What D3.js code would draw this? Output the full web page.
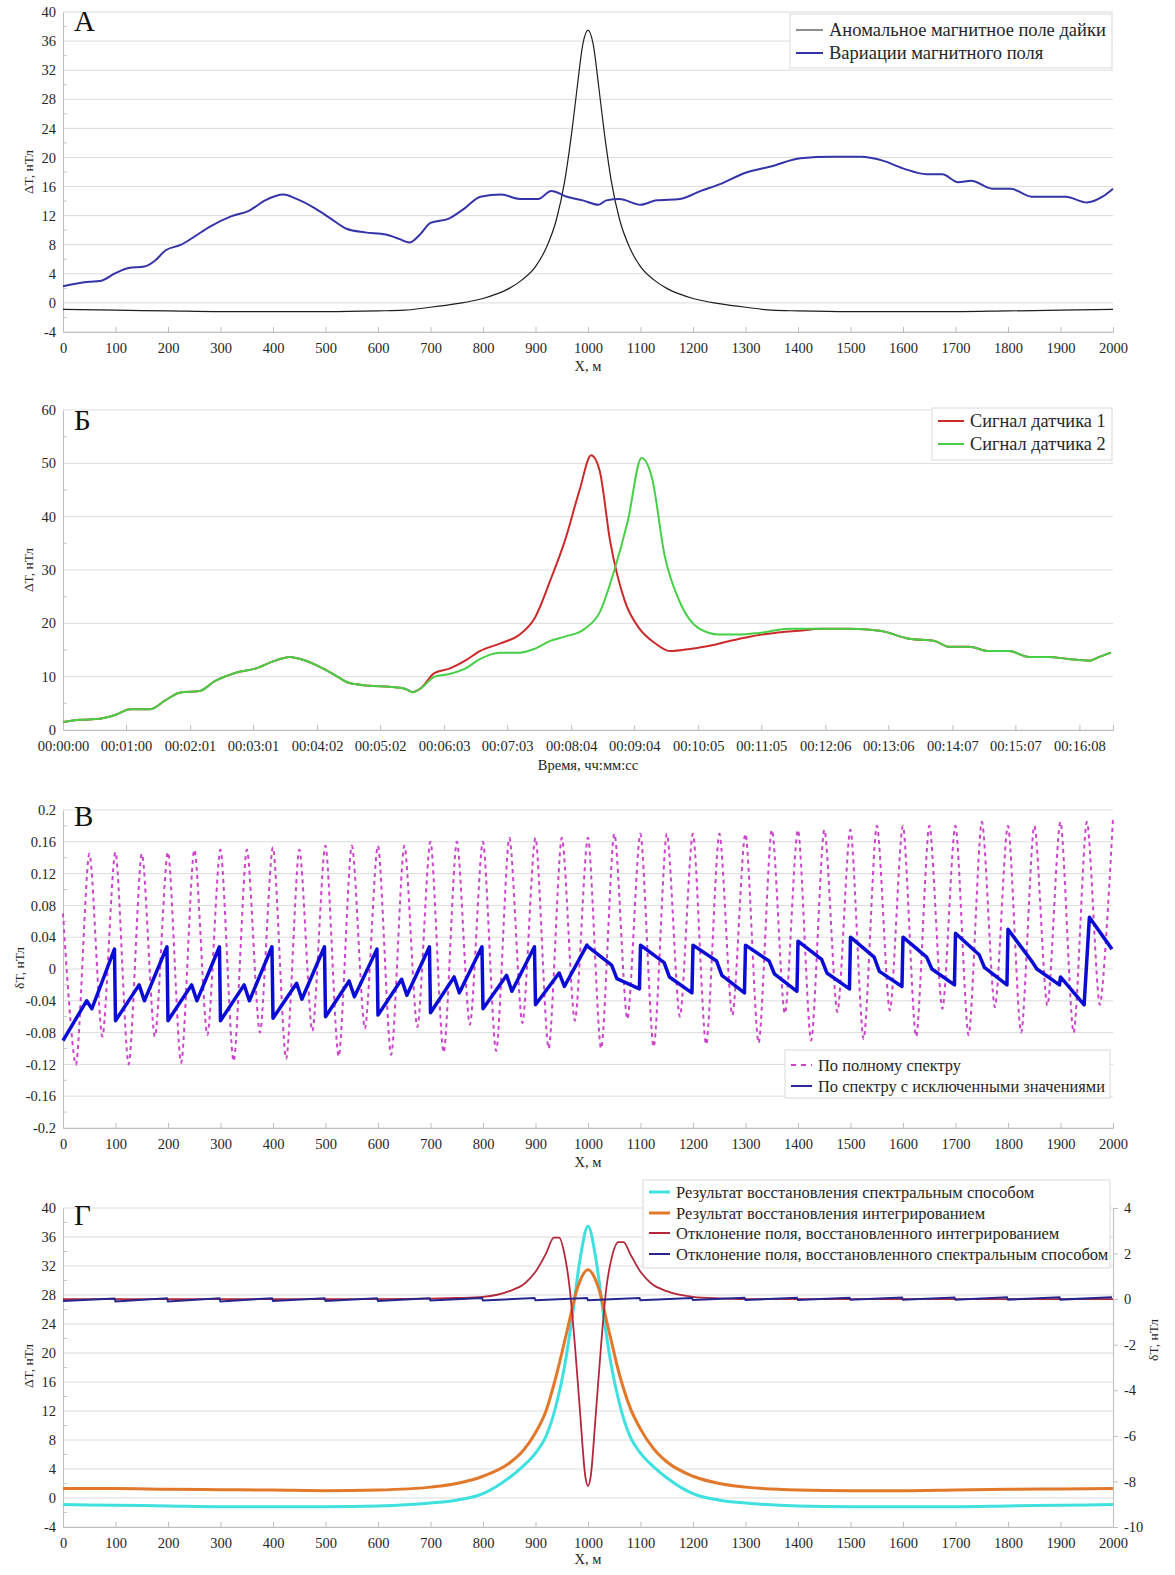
<!DOCTYPE html>
<meta charset="utf-8">
<style>
body { margin: 0; background: #fff; }
</style>
<body>
<script src="https://cdn.jsdelivr.net/npm/d3@7"></script>
<script>

// ---------- panel A: dike anomaly and field variations ----------
var dikeX = [0,100,200,300,400,500,600,650,700,750,800,825,850,875,900,920,940,955,970,980,990,1000,1010,1020,1030,1045,1060,1080,1100,1125,1150,1175,1200,1250,1300,1350,1400,1500,1600,1700,1800,1900,2000];
var dikeT = [-0.9,-1.0,-1.1,-1.2,-1.2,-1.2,-1.1,-1.0,-0.6,-0.1,0.6,1.2,2.0,3.2,5.0,7.5,11.5,16.5,24,30,35.5,37.5,35.5,30,24,16.5,11.5,7.5,5.0,3.2,2.0,1.2,0.6,-0.1,-0.6,-1.0,-1.1,-1.2,-1.2,-1.2,-1.1,-1.0,-0.9];
var varX = [0,50,70,100,125,155,175,195,225,250,280,320,355,385,420,445,480,510,540,575,615,640,660,680,700,735,765,795,835,870,905,930,960,990,1020,1035,1060,1100,1130,1175,1215,1250,1300,1350,1405,1465,1520,1560,1600,1645,1675,1705,1730,1770,1805,1845,1885,1910,1950,1980,2000];
var varT = [2.3,2.9,3.0,4.1,4.8,5.0,5.8,7.2,8.0,9.1,10.5,11.9,12.7,14.1,14.9,14.3,13.0,11.6,10.2,9.7,9.4,8.8,8.3,9.4,11.0,11.6,13.0,14.6,14.9,14.3,14.3,15.4,14.6,14.1,13.5,14.1,14.3,13.5,14.1,14.3,15.4,16.3,17.9,18.8,19.9,20.1,20.1,19.6,18.5,17.7,17.7,16.6,16.8,15.7,15.7,14.6,14.6,14.6,13.8,14.6,15.7];

// ---------- panel B: two sensor signals in time (s) ----------
var tCommon1 = [0,16,35,49.5,64,83,97,111,130,145,164,183,202,216,226,245,259,273,292,311,326,333,340];
var sCommon1 = [1.5,1.9,2.1,2.8,3.9,3.9,5.5,7.0,7.3,9.2,10.7,11.5,13.0,13.7,13.3,11.8,10.3,8.8,8.3,8.1,7.7,7.1,7.7];
var tSensor1 = [354,368,383,397,416,435,449,464,478,492,503,511,521,535,549,563,578,597,616,635,654,678,701];
var sSensor1 = [10.7,11.5,13,14.8,16.2,17.9,20.9,28,35.5,45,51.5,48.7,35.5,24.2,19.0,16.4,14.8,15.2,15.8,16.7,17.5,18.2,18.6];
var tSensor2 = [354,368,383,397,416,435,449,464,478,497,511,525,538,551,561,573,587,606,625,644,663,692,701];
var sSensor2 = [10.0,10.5,11.5,13.3,14.5,14.5,15.2,16.7,17.5,19.0,22.0,29.9,39.3,51,47.2,32.7,24.2,19,17.9,17.9,18.2,19.0,19.0];
var tCommon2 = [721,749,778,806,830,844,863,882,901,920,939,958,978,987,998];
var sCommon2 = [19.0,19.0,18.6,17.1,16.7,15.6,15.6,14.8,14.8,13.7,13.7,13.3,13.0,13.7,14.5];
var timeTicks = ["00:00:00","00:01:00","00:02:01","00:03:01","00:04:02","00:05:02","00:06:03","00:07:03","00:08:04","00:09:04","00:10:05","00:11:05","00:12:06","00:13:06","00:14:07","00:15:07","00:16:08"];

// ---------- panel C: reconstruction errors ----------
// full spectrum: crest every 50 m, trough between crests
var magPeak = [0.07,0.145,0.147,0.145,0.147,0.15,0.15,0.15,0.153,0.15,0.155,0.155,0.155,0.155,0.16,0.16,0.16,0.165,0.165,0.165,0.165,0.17,0.17,0.17,0.17,0.17,0.17,0.175,0.175,0.175,0.175,0.18,0.18,0.18,0.18,0.185,0.18,0.18,0.185,0.185,0.19];
var magLow = [-0.12,-0.085,-0.12,-0.085,-0.118,-0.083,-0.116,-0.08,-0.113,-0.078,-0.11,-0.075,-0.108,-0.073,-0.105,-0.07,-0.103,-0.068,-0.1,-0.065,-0.1,-0.063,-0.098,-0.06,-0.095,-0.058,-0.093,-0.056,-0.09,-0.054,-0.088,-0.052,-0.085,-0.05,-0.083,-0.048,-0.08,-0.046,-0.08,-0.045];
// excluded values: one tooth per 100 m, read at +0, +45, +55, +98 m
var blueStart = [-0.09,-0.065,-0.065,-0.065,-0.062,-0.06,-0.058,-0.055,-0.05,-0.045,0.028,0.03,0.03,0.03,0.035,0.04,0.04,0.045,0.05,-0.01];
var blueMidA = [-0.04,-0.02,-0.02,-0.02,-0.018,-0.015,-0.013,-0.01,-0.008,-0.005,0.005,0.008,0.01,0.01,0.012,0.015,0.015,0.018,0.01,-0.045];
var blueMidB = [-0.05,-0.04,-0.04,-0.04,-0.038,-0.035,-0.033,-0.03,-0.028,-0.022,-0.012,-0.01,-0.008,-0.006,-0.005,-0.003,0,0.002,0.0,0.065];
var blueEnd = [0.025,0.028,0.028,0.028,0.028,0.025,0.028,0.028,0.028,0.03,-0.025,-0.03,-0.03,-0.028,-0.025,-0.022,-0.02,-0.02,-0.02,0.025];

// ---------- panel D: reconstructed fields and deviations ----------
var specX = [0,100,200,300,400,500,600,700,750,800,850,875,900,920,940,955,970,985,1000,1015,1030,1045,1060,1080,1100,1125,1150,1200,1250,1300,1400,1500,1600,1700,1800,1900,2000];
var specT = [-0.9,-1.0,-1.1,-1.2,-1.2,-1.2,-1.1,-0.7,-0.3,0.6,2.8,4.3,6.2,8.5,13,18,25,33,37.5,33,25,18,13,8.5,6.2,4.3,2.8,0.6,-0.3,-0.7,-1.1,-1.2,-1.2,-1.2,-1.1,-1.0,-0.9];
var intX = [0,100,200,300,400,500,600,700,750,800,850,875,900,920,940,960,980,1000,1020,1040,1060,1080,1100,1125,1150,1200,1250,1300,1400,1500,1600,1700,1800,1900,2000];
var intT = [1.3,1.3,1.2,1.15,1.1,1.0,1.1,1.5,2.0,3.0,4.8,6.4,9.0,12.0,17,23,29,31.5,29,23,17,12.5,9.5,6.8,5.0,3.0,2.0,1.5,1.1,1.0,1.0,1.1,1.2,1.25,1.3];
var devIntX = [0,200,400,600,700,750,800,850,880,900,920,935,945,955,965,975,985,995,1000,1005,1015,1025,1035,1045,1058,1068,1080,1100,1120,1150,1200,1250,1300,1400,1600,1800,2000];
var devIntV = [0,0,0,0,0.02,0.05,0.1,0.35,0.7,1.2,2.0,2.7,2.7,2.0,0.5,-2.0,-5.0,-7.8,-8.2,-7.8,-5.0,-2.0,0.5,1.8,2.5,2.5,2.0,1.2,0.7,0.35,0.1,0.03,0,0,0,0,0];
var navyLo = [-0.08,-0.1,-0.1,-0.1,-0.08,-0.08,-0.08,-0.06,-0.06,-0.05,-0.05,-0.05,-0.04,-0.04,-0.04,-0.03,-0.03,-0.03,-0.02,-0.02];
var navyHi = [0.03,0.04,0.04,0.04,0.04,0.04,0.04,0.05,0.05,0.05,0.05,0.05,0.06,0.06,0.06,0.07,0.07,0.08,0.08,0.08];

var xTicks = [0,100,200,300,400,500,600,700,800,900,1000,1100,1200,1300,1400,1500,1600,1700,1800,1900,2000];
var yTicksA = [-4,0,4,8,12,16,20,24,28,32,36,40];
var yTicksB = [0,10,20,30,40,50,60];
var yTicksC = [-0.2,-0.16,-0.12,-0.08,-0.04,0,0.04,0.08,0.12,0.16,0.2];
var yTicksD = [-4,0,4,8,12,16,20,24,28,32,36,40];
var yTicksDR = [-10,-8,-6,-4,-2,0,2,4];

var W = 1175, H = 1575, L = 63, R = 1113;
var serif = '"Liberation Serif", "Times New Roman", serif';
var ink = "#262626";

var svg = d3.select("body").append("svg")
    .attr("width", W).attr("height", H)
    .style("font-family", serif);
svg.append("rect").attr("width", W).attr("height", H).attr("fill", "#fff");

var x = d3.scaleLinear().domain([0, 2000]).range([L, R]);
var xTime = d3.scaleLinear().domain([0, 1000]).range([L, R]);

function toSec(s) {
  var p = s.split(":");
  return +p[0] * 3600 + +p[1] * 60 + +p[2];
}

function grid(y, ticks) {
  svg.append("g").selectAll("line").data(ticks).enter().append("line")
      .attr("x1", L).attr("x2", R)
      .attr("y1", function(d) { return y(d); })
      .attr("y2", function(d) { return y(d); })
      .attr("stroke", "#dcdcdc");
}

function styleAxis(g) {
  g.attr("font-family", serif);
  g.select(".domain").attr("stroke", "#bfbfbf");
  g.selectAll(".tick line").attr("stroke", "#bfbfbf");
  g.selectAll("text").attr("font-size", 14.5).attr("fill", ink);
}

function leftAxis(y, ticks) {
  var g = svg.append("g").attr("transform", "translate(" + L + ",0)");
  var minor = [];
  for (var i = 0; i < ticks.length - 1; i++) minor.push((ticks[i] + ticks[i + 1]) / 2);
  g.selectAll(".minor").data(minor).enter().append("line")
      .attr("x1", 0).attr("x2", 4)
      .attr("y1", function(d) { return y(d); })
      .attr("y2", function(d) { return y(d); })
      .attr("stroke", "#c8c8c8");
  g.call(d3.axisLeft(y).tickValues(ticks).tickSize(0).tickPadding(7)
      .tickFormat(function(d) { return String(d); }));
  styleAxis(g);
}

function bottomAxis(scale, yPos, ticks, fmt) {
  var g = svg.append("g").attr("transform", "translate(0," + yPos + ")");
  g.call(d3.axisBottom(scale).tickValues(ticks).tickSize(-5).tickPadding(11).tickFormat(fmt));
  styleAxis(g);
}

function yTitle(txt, cx, cy) {
  svg.append("text").attr("transform", "translate(" + cx + "," + cy + ") rotate(-90)")
      .attr("text-anchor", "middle").attr("font-size", 13.5).attr("fill", ink).text(txt);
}

function xTitle(txt, cy) {
  svg.append("text").attr("x", 588).attr("y", cy).attr("text-anchor", "middle")
      .attr("font-size", 14.5).attr("fill", ink).text(txt);
}

function letter(txt, cy) {
  svg.append("text").attr("x", 74).attr("y", cy).attr("font-size", 29).attr("fill", "#111").text(txt);
}

function path(xs, ys, xs_scale, ys_scale, color, w, dash) {
  var pts = xs.map(function(d, i) { return [d, ys[i]]; });
  var line = d3.line()
      .x(function(d) { return xs_scale(d[0]); })
      .y(function(d) { return ys_scale(d[1]); })
      .curve(d3.curveMonotoneX);
  svg.append("path").datum(pts)
      .attr("d", line)
      .attr("fill", "none")
      .attr("stroke", color)
      .attr("stroke-width", w)
      .attr("stroke-linejoin", "round")
      .attr("stroke-dasharray", dash || null);
}

function legend(x0, y0, w, h, items, rows, fs, tx) {
  var g = svg.append("g");
  g.append("rect").attr("x", x0).attr("y", y0).attr("width", w).attr("height", h)
      .attr("fill", "#fff").attr("stroke", "#d9d9d9");
  items.forEach(function(it, i) {
    g.append("line").attr("x1", x0 + 6).attr("x2", x0 + tx - 6)
        .attr("y1", rows[i]).attr("y2", rows[i])
        .attr("stroke", it.color).attr("stroke-width", it.w)
        .attr("stroke-dasharray", it.dash || null);
    g.append("text").attr("x", x0 + tx).attr("y", rows[i] + 5.5)
        .attr("font-size", fs).attr("fill", ink).text(it.name);
  });
}

// ===== A =====
var yA = d3.scaleLinear().domain([-4, 40]).range([332, 12]);
grid(yA, yTicksA);
leftAxis(yA, yTicksA);
bottomAxis(x, 332, xTicks, function(d) { return String(d); });
path(dikeX, dikeT, x, yA, "#1e1e1e", 1.2);
path(varX, varT, x, yA, "#3434a8", 2);
yTitle("ΔT, нТл", 33, 172);
xTitle("X, м", 371);
letter("А", 31);
legend(790, 14, 322, 54, [
  {name: "Аномальное магнитное поле дайки", color: "#444", w: 1.2},
  {name: "Вариации магнитного поля", color: "#3434a8", w: 2}
], [30, 53], 18.5, 39);

// ===== Б =====
var yB = d3.scaleLinear().domain([0, 60]).range([730, 410]);
grid(yB, yTicksB);
leftAxis(yB, yTicksB);
bottomAxis(xTime, 730, timeTicks.map(toSec), function(d, i) { return timeTicks[i]; });
path(tCommon1.concat(tSensor1, tCommon2), sCommon1.concat(sSensor1, sCommon2), xTime, yB, "#cc2a2a", 2);
path(tCommon1.concat(tSensor2, tCommon2), sCommon1.concat(sSensor2, sCommon2), xTime, yB, "#46d046", 2);
yTitle("ΔT, нТл", 33, 570);
xTitle("Время, чч:мм:сс", 770);
letter("Б", 430);
legend(932, 408, 180, 52, [
  {name: "Сигнал датчика 1", color: "#cc2a2a", w: 2},
  {name: "Сигнал датчика 2", color: "#46d046", w: 2}
], [421, 444], 18.3, 38);

// ===== В =====
var yC = d3.scaleLinear().domain([-0.2, 0.2]).range([1128, 810]);
grid(yC, yTicksC);
leftAxis(yC, yTicksC);
bottomAxis(x, 1128, xTicks, function(d) { return String(d); });
var magX = [], magV = [];
magPeak.forEach(function(p, k) {
  magX.push(k * 50); magV.push(p);
  if (k < magLow.length) { magX.push(k * 50 + 25); magV.push(magLow[k]); }
});
var magLine = d3.line()
    .x(function(d) { return x(d[0]); })
    .y(function(d) { return yC(d[1]); })
    .curve(d3.curveCardinal.tension(0.2));
svg.append("path").datum(magX.map(function(d, i) { return [d, magV[i]]; }))
    .attr("d", magLine).attr("fill", "none")
    .attr("stroke", "#cc44cc").attr("stroke-width", 2).attr("stroke-dasharray", "4,4");
var blX = [], blV = [];
blueStart.forEach(function(a, k) {
  blX.push(k * 100, k * 100 + 45, k * 100 + 55, k * 100 + 98);
  blV.push(a, blueMidA[k], blueMidB[k], blueEnd[k]);
});
svg.append("path").datum(blX.map(function(d, i) { return [d, blV[i]]; }))
    .attr("d", d3.line().x(function(d) { return x(d[0]); }).y(function(d) { return yC(d[1]); }))
    .attr("fill", "none").attr("stroke", "#0b0bd6").attr("stroke-width", 3.5)
    .attr("stroke-linejoin", "round");
yTitle("δT, нТл", 24, 968);
xTitle("X, м", 1167);
letter("В", 826);
legend(785, 1050, 325, 48, [
  {name: "По полному спектру", color: "#cc44cc", w: 2, dash: "5,5"},
  {name: "По спектру с исключенными значениями", color: "#2a2a9a", w: 2}
], [1065, 1086], 16.4, 33);

// ===== Г =====
var yD = d3.scaleLinear().domain([-4, 40]).range([1527, 1208]);
var yDR = d3.scaleLinear().domain([-10, 4]).range([1527, 1208]);
grid(yD, yTicksD);
leftAxis(yD, yTicksD);
var gr = svg.append("g").attr("transform", "translate(" + R + ",0)");
gr.call(d3.axisRight(yDR).tickValues(yTicksDR).tickSize(5).tickPadding(6)
    .tickFormat(function(d) { return String(d); }));
styleAxis(gr);
bottomAxis(x, 1527, xTicks, function(d) { return String(d); });
path(specX, specT, x, yD, "#3fe0e0", 3);
path(intX, intT, x, yD, "#e2782a", 3);
path(devIntX, devIntV, x, yDR, "#b3283a", 1.8);
var nvX = [], nvV = [];
navyLo.forEach(function(lo, k) {
  nvX.push(k * 100, k * 100 + 98);
  nvV.push(lo, navyHi[k]);
});
svg.append("path").datum(nvX.map(function(d, i) { return [d, nvV[i]]; }))
    .attr("d", d3.line().x(function(d) { return x(d[0]); }).y(function(d) { return yDR(d[1]); }))
    .attr("fill", "none").attr("stroke", "#25258f").attr("stroke-width", 2);
yTitle("ΔT, нТл", 33, 1366);
yTitle("δT, нТл", 1158, 1340);
xTitle("X, м", 1564);
letter("Г", 1225);
legend(643, 1180, 467, 88, [
  {name: "Результат восстановления спектральным способом", color: "#3fe0e0", w: 3},
  {name: "Результат восстановления интегрированием", color: "#e2782a", w: 3},
  {name: "Отклонение поля, восстановленного интегрированием", color: "#b3283a", w: 2},
  {name: "Отклонение поля, восстановленного спектральным способом", color: "#25258f", w: 2}
], [1192, 1213, 1233, 1254], 16.5, 33);

</script>
</body>
